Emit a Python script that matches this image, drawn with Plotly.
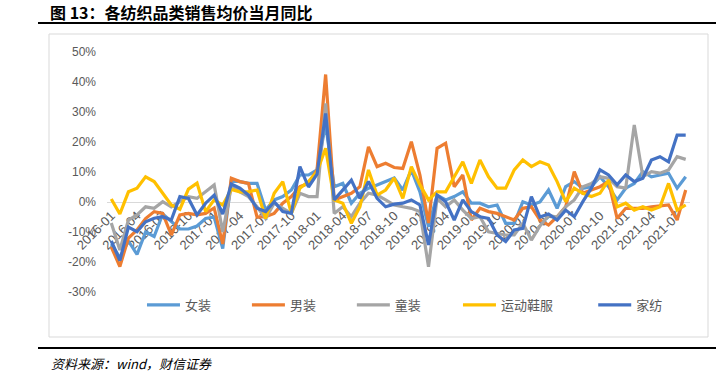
import plotly.graph_objects as go
import pandas as pd

months = [d.strftime("%Y-%m") for d in pd.date_range("2016-01-01", "2021-08-01", freq="MS")]
tick_labels = months[::3]

womens = [-14, -18.5, -13, -17.5, -10, -11.5, -4, -6.5, -9, -9, -8, -5.5, -5, -15.5, 7.3, 6.8,
          6.2, 6.2, -2.7, 0.7, 1.8, 4, 9, 9, 10.7, 26, 5.1, 6.2, -0.4, 2.9, 4.6, 5.7, 6.8, 8,
          4, 10.7, 3.4, -8.2, 2.3, 0.7, 1.8, 3.4, -0.4, -0.4, -1.6, -1, -7.1, -7.1, 0.1, -1,
          0, 4, -2.1, 5.1, 6.8, 4.6, 5.1, 8.4, 5.1, 0.7, 4.6, 6.2, 10.1, 8.4, 9, 9.6, 4.6, 8.4]
mens = [-15, -21.5, -12, -9.3, -5.5, -3.2, -3.8, -11, -4.3, -3.8, -4.3, -3.8, -2, -14, 7.9, 6.8,
        6.2, -5, -4.9, -3.8, -0.4, 1.8, 5.1, 6.2, 10.7, 42.5, 0.7, 1.8, 2.9, 5.1, 18.4, 11.8, 12.9, 11.5,
        11.2, 20.1, 9, -7, 17.9, 19.6, 5.1, 9, -6, -2.1, -3.2, -3.8, -4.9, -6, -2.1, -1.6,
        -6, -7.7, -4.9, -1.6, 10.1, 2.9, 4, 5.1, 6.8, -5.5, -2.1, -2.1, -2.1, -1.6, -1.3, -1, -6, 4]
kids = [-7, -16, -6, -4.3, -1.6, -2.1, 0.1, -1.6, 0.1, 1.8, 1.2, 3.4, 5.7, -10, 5.1, 3.4,
        1.8, -1.6, -5.5, -0.4, -2.1, -3.8, 2.9, 1.8, 1.8, 32.9, -3.8, -1.6, -4.9, -0.4, 2.9, 2.3, 0.7, -1,
        -1.6, -2.1, -3.2, -21.6, 1.2, -1.6, 0.7, -2.7, -5.5, -4.9, -9.9, -10.4, -11, -11, -7.1, -12.7,
        -8, -4.5, -5, -1.6, 0.7, 5.1, 6.2, 8.4, 7.9, 5.1, 4.6, 25.7, 8.4, 10.1, 9.6, 10.7, 15.1, 14.2]
sports = [1, -4, 3.4, 4.6, 8.4, 6.8, 2.9, -1, -2.4, 4.3, 6.3, -3.2, 0.7, -1, 4.2, 3.4,
          3.4, 4, -5.5, 2.9, 6.8, -3.8, 4.6, 6.8, 10.1, 17.9, 0.7, -0.4, -7.1, -1.6, 10.7, 2.3, 4, 8,
          1.2, 11.8, 5.7, 0.7, 3.4, 3.4, 8.4, 13.4, 6.2, 14, 8.4, 4.6, 4.6, 10.7, 14, 11.8,
          13.4, 12.3, 6.8, 0.1, 4.6, 2.9, 1.8, 2.9, 7.3, -1.6, -0.4, -2.7, -1.6, -2.7, -1.6, 6.2, -2.7, -1]
home = [-13, -19.5, -8.4, -9.9, -6.6, -5.4, -4.9, -6, 1.8, 1.2, -4.3, -0.4, 2.3, -4, 6, 4.6,
        2.3, -2.1, -3.2, 0.1, -3.2, -3.8, 11.8, 5, 9.3, 29.5, 0.7, 4, 7.3, 1.2, 6.8, 1.2, -1.6, -0.7,
        -0.4, 0.7, -1, -14.3, 2.3, 0.1, -6, 0.7, -3.2, -4.9, -5.5, -11, -13.2, -9.3, -8.8, 1.8,
        -5, -4, -6, -2.7, -4.9, 0.1, 4.6, 10.7, 9, 5.7, 9, 6.8, 7.9, 14, 15.1, 13.4, 22.3, 22.3]

series_names = ["女装", "男装", "童装", "运动鞋服", "家纺"]
series_values = [womens, mens, kids, sports, home]
colors = ["#5B9BD5", "#ED7D31", "#A5A5A5", "#FFC000", "#4472C4"]
legend_ids = ["legend", "legend2", "legend3", "legend4", "legend5"]
legend_x = [0.060, 0.240, 0.420, 0.602, 0.834]

W, H = 716, 372
L, R, T, B = 107, 690, 52, 292
pw, ph = R - L, B - T


def px_x(p):
    return (p - L) / pw


def px_y(p):
    return (B - p) / ph


fig = go.Figure()
for name, vals, col, lid in zip(series_names, series_values, colors, legend_ids):
    fig.add_trace(go.Scatter(x=months, y=vals, mode="lines", name=name,
                             line=dict(color=col, width=3.2), legend=lid))

legend_font = dict(family="Noto Sans CJK SC", size=13, color="#595959")
layout_legends = {}
for lid, lx in zip(legend_ids, legend_x):
    layout_legends[lid] = dict(x=lx, y=px_y(305), xanchor="left", yanchor="middle",
                               orientation="h", font=legend_font, bgcolor="rgba(0,0,0,0)",
                               itemwidth=33, tracegroupgap=0)

fig.update_layout(
    width=W, height=H,
    margin=dict(l=L, r=W - R, t=T, b=H - B, pad=0),
    paper_bgcolor="white", plot_bgcolor="white",
    showlegend=True,
    **layout_legends,
    xaxis=dict(type="category", range=[-0.5, len(months) - 0.5],
               tickmode="array", tickvals=tick_labels, ticktext=tick_labels,
               tickangle=-45, anchor="free", position=30 / 80,
               showline=True, linecolor="#D9D9D9", linewidth=1,
               showgrid=False, zeroline=False, ticks="",
               tickfont=dict(family="Liberation Sans", size=13, color="#595959"),
               layer="below traces"),
    yaxis=dict(range=[-30, 50], tickvals=[-30, -20, -10, 0, 10, 20, 30, 40, 50],
               ticktext=["-30%", "-20%", "-10%", "0%", "10%", "20%", "30%", "40%", "50%"],
               showgrid=False, zeroline=False, showline=False, ticks="",
               ticklabelstandoff=10,
               tickfont=dict(family="Liberation Sans", size=12, color="#595959")),
    shapes=[
        dict(type="rect", xref="paper", yref="paper",
             x0=px_x(49), x1=px_x(708), y0=px_y(337), y1=px_y(34),
             line=dict(color="#D9D9D9", width=1), layer="below"),
        dict(type="line", xref="paper", yref="paper",
             x0=px_x(38), x1=px_x(716), y0=px_y(23), y1=px_y(23),
             line=dict(color="black", width=2)),
        dict(type="line", xref="paper", yref="paper",
             x0=px_x(38), x1=px_x(716), y0=px_y(348), y1=px_y(348),
             line=dict(color="black", width=2)),
    ],
    annotations=[
        dict(text="<b>图 13：各纺织品类销售均价当月同比</b>", xref="paper", yref="paper",
             x=px_x(48), y=px_y(12), xanchor="left", yanchor="middle", showarrow=False,
             font=dict(family="Noto Sans CJK SC", size=16, color="black")),
        dict(text="<i>资料来源：wind，财信证券</i>", xref="paper", yref="paper",
             x=px_x(49), y=px_y(363), xanchor="left", yanchor="middle", showarrow=False,
             font=dict(family="Noto Sans CJK SC", size=13, color="black")),
    ],
)

fig.write_html("out.html", config={"displayModeBar": False},
               post_script="document.body.style.margin='0';document.body.style.overflow='hidden';")
